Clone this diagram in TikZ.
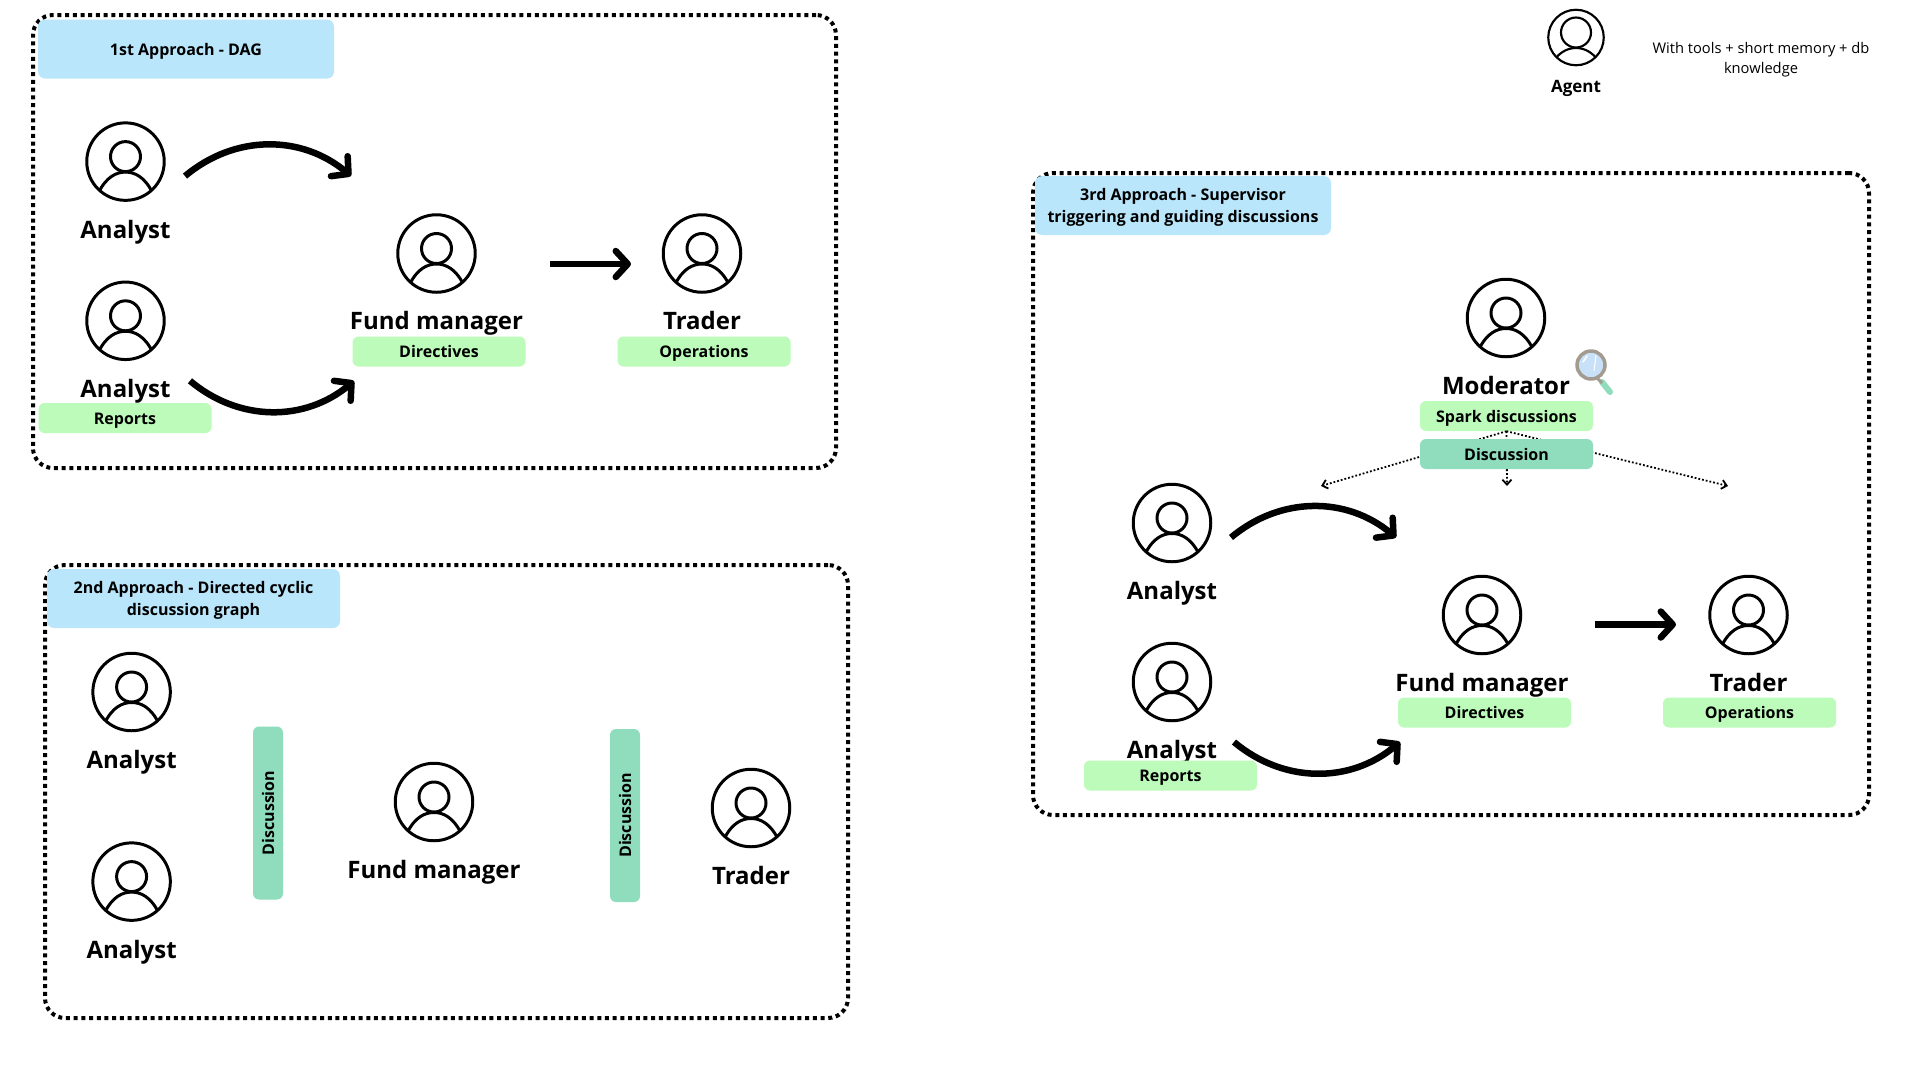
\documentclass[tikz,border=0pt]{standalone}
\usepackage{fontspec}
\setmainfont{Open Sans}
\usepackage{tikz}
\usetikzlibrary{arrows.meta,positioning}
\definecolor{titleblue}{HTML}{BAE6FB}
\definecolor{taggreen}{HTML}{BCFBB9}
\definecolor{discmint}{HTML}{8FDDBD}
\definecolor{lensgray}{HTML}{A39B90}
\definecolor{lensblue}{HTML}{C8E1F8}

\begin{document}
\begin{tikzpicture}[
  x=1pt, y=-1pt,
  node distance=19.5pt,
  frame/.style={line width=4pt, dash pattern=on 4pt off 3.7pt, rounded corners=20pt, outer sep=0pt},
  titlebox/.style={fill=titleblue, rounded corners=7pt, minimum width=296pt, minimum height=59pt, inner sep=0pt, align=center, text depth=0pt, font=\fontsize{16}{22}\selectfont\bfseries},
  icon/.style={circle, draw, line width={#1/26}, minimum size=#1, inner sep=0pt, outer sep=0pt, path picture={
    \begin{scope}[shift={(path picture bounding box.center)}, scale=#1/77]
      \draw[line width={#1/26}] (0,-5) circle (15);
      \draw[line width={#1/26}] (-27,31) .. controls (-19,15) and (-9,10.5) .. (0,10.5) .. controls (9,10.5) and (19,15) .. (27,31);
    \end{scope}}},
  role/.style={inner sep=0pt, text height=18pt, text depth=6pt, font=\fontsize{24}{28}\selectfont\bfseries},
  tag/.style={fill=taggreen, rounded corners=6pt, minimum width=173pt, minimum height=30pt, inner sep=0pt, text height=12pt, text depth=0pt, font=\fontsize{16}{20}\selectfont\bfseries},
  disc/.style={tag, fill=discmint},
  flow/.style={-{Straight Barb[length=12pt, width=26pt, round]}, line width=6.5pt},
  aux/.style={-{Straight Barb[length=5pt, width=9pt]}, line width=1.8pt, dotted}
]
\useasboundingbox (0,0) rectangle (1920,1080);

% 1st approach
\node[draw, frame, minimum width=803pt, minimum height=453pt, anchor=north west] (box1) at (33,15) {};
\node[titlebox] (title1) at (186,49) {1st Approach - DAG};
\node[icon=77.5pt] (an1) at (125.5,161.6) {};
\node[role, below=of an1] (an1l) {Analyst};
\node[icon=77.5pt] (an2) at (125.5,320.8) {};
\node[role, below=of an2] (an2l) {Analyst};
\node[tag] (reports1) at (125,418) {Reports};
\node[icon=77.5pt] (fm1) at (436.5,253.5) {};
\node[role, below=of fm1] (fm1l) {Fund manager};
\node[tag] (dir1) at (439,351.5) {Directives};
\node[icon=77.5pt] (tr1) at (702,253.5) {};
\node[role, below=of tr1] (tr1l) {Trader};
\node[tag] (op1) at (704,351.5) {Operations};

\draw[flow] ([shift={(59.5,14.5)}]an1.center) to[bend left=40] ([shift={(-85.5,-77.5)}]fm1.center);
\draw[flow] ([shift={(64.5,60)}]an2.center) to[bend right=40] ([shift={(-82.5,127.5)}]fm1.center);
\draw[flow] ([shift={(113.5,10.5)}]fm1.center) -- ([shift={(-71,10.5)}]tr1.center);

% 2nd approach
\node[draw, frame, minimum width=803pt, minimum height=453pt, anchor=north west] (box2) at (45,565) {};
\node[titlebox, minimum width=293pt] (title2) at (193.5,598.5) {2nd Approach - Directed cyclic\\discussion graph};
\node[icon=77.5pt] (an3) at (131.6,692) {};
\node[role, below=of an3] (an3l) {Analyst};
\node[icon=77.5pt] (an4) at (131.6,881.6) {};
\node[role, below=of an4] (an4l) {Analyst};
\node[disc, rotate=90] (disc1) at (268,813) {Discussion};
\node[icon=77.5pt] (fm2) at (434,802) {};
\node[role, below=of fm2] (fm2l) {Fund manager};
\node[disc, rotate=90] (disc2) at (625,815.5) {Discussion};
\node[icon=77.5pt] (tr2) at (751,808) {};
\node[role, below=of tr2] (tr2l) {Trader};

% 3rd approach
\node[draw, frame, minimum width=836pt, minimum height=642pt, anchor=north west] (box3) at (1033,173) {};
\node[titlebox] (title3) at (1183,205.5) {3rd Approach - Supervisor\\triggering and guiding discussions};
\node[icon=77.5pt] (mod) at (1506,318) {};
\node[role, below=of mod] (modl) {Moderator};
\node[tag] (spark) at (1506.5,416) {Spark discussions};

\coordinate (dleft) at (1321,486);
\coordinate (dmid) at (1507,486);
\coordinate (dright) at (1728,486);
\draw[aux] (spark.south) -- (dleft);
\draw[aux] (spark.south) -- (dmid);
\draw[aux] (spark.south) -- (dright);
\node[disc] (disc3) at (1506.5,454) {Discussion};

% magnifier
\draw[discmint, line width=6pt, line cap=round] (1602,382) -- (1610,392);
\draw[lensgray, line width=3pt] (1597,378) -- (1602,383);
\draw[fill=lensblue, draw=lensgray, line width=3.5pt] (1591,365) circle (14);
\draw[white, line width=1pt] (1596,355) -- (1594,371);
\draw[white, line width=1.5pt, line cap=round] (1583,362) -- (1587,356);

\node[icon=77.5pt] (an5) at (1172,523) {};
\node[role, below=of an5] (an5l) {Analyst};
\node[icon=77.5pt] (an6) at (1172,682) {};
\node[role, below=of an6] (an6l) {Analyst};
\node[tag] (reports2) at (1170.5,775.5) {Reports};
\node[icon=77.5pt] (fm3) at (1482,615) {};
\node[role, below=of fm3] (fm3l) {Fund manager};
\node[tag] (dir3) at (1484.5,712.5) {Directives};
\node[icon=77.5pt] (tr3) at (1748.5,615) {};
\node[role, below=of tr3] (tr3l) {Trader};
\node[tag] (op3) at (1749.5,712.5) {Operations};

\draw[flow] ([shift={(59,14.5)}]an5.center) to[bend left=40] ([shift={(-86,-77.5)}]fm3.center);
\draw[flow] ([shift={(62,60)}]an6.center) to[bend right=40] ([shift={(-82,127)}]fm3.center);
\draw[flow] ([shift={(113,9.5)}]fm3.center) -- ([shift={(-72.5,9.5)}]tr3.center);

% legend
\node[icon=55.5pt] (agent) at (1576,37.5) {};
\node[role, below=15pt of agent, text height=12pt, text depth=4pt, font=\fontsize{17}{20}\selectfont\bfseries] (agentl) {Agent};
\node[align=center, inner sep=0pt, font=\fontsize{14.7}{20}\selectfont] (note) at (1761,60) {With tools + short memory + db\\knowledge};
\end{tikzpicture}
\end{document}
